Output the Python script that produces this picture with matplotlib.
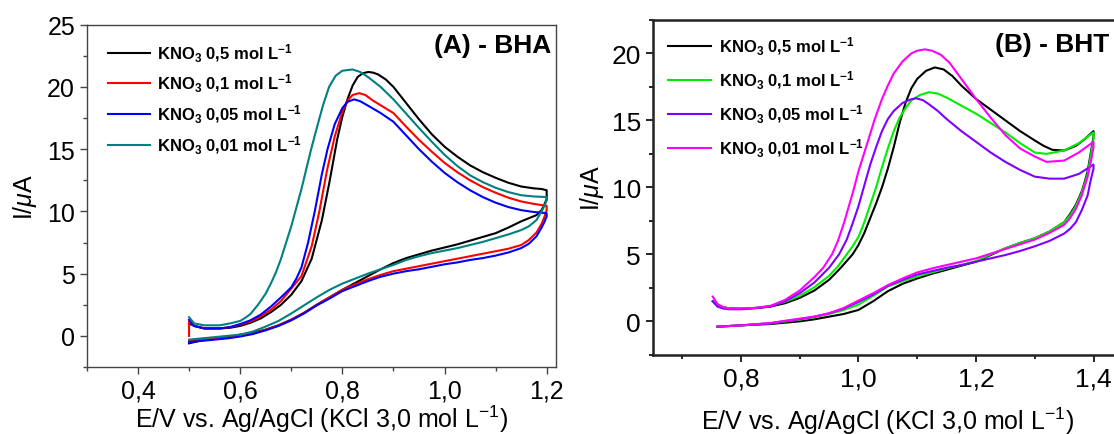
import numpy as np
import matplotlib.pyplot as plt

plt.rcParams['font.family'] = ['Liberation Sans', 'DejaVu Sans']
plt.rcParams['mathtext.fontset'] = 'custom'
plt.rcParams['mathtext.rm'] = 'Liberation Sans'
plt.rcParams['mathtext.bf'] = 'Liberation Sans:bold'
plt.rcParams['mathtext.it'] = 'Liberation Sans:italic'

# ---------------- panel A (BHA): E in V, I in uA ----------------
# each curve: forward scan (0.5 -> 1.2 V) followed by reverse scan (1.2 -> 0.5 V)
labels_a = ["0,5", "0,1", "0,05", "0,01"]
colors_a = ["black", "#ff0000", "#0000ff", "#008080"]

E_a_black = [0.5, 0.51, 0.53, 0.56, 0.58, 0.6, 0.62, 0.64, 0.66, 0.68, 0.7, 0.72, 0.74, 0.76, 0.775, 0.79, 0.8,
             0.81, 0.82, 0.83, 0.84, 0.851, 0.86, 0.87, 0.885, 0.9, 0.925, 0.95, 0.975, 1.0, 1.025, 1.05, 1.075,
             1.1, 1.125, 1.15, 1.175, 1.19, 1.2,
             1.2, 1.195, 1.19, 1.18, 1.165, 1.15, 1.125, 1.1, 1.075, 1.05, 1.025, 1.0, 0.975, 0.95, 0.925, 0.9,
             0.875, 0.85, 0.825, 0.8, 0.775, 0.75, 0.725, 0.7, 0.675, 0.65, 0.625, 0.6, 0.575, 0.55, 0.525, 0.5]
I_a_black = [1.0, 0.8, 0.6, 0.6, 0.65, 0.8, 1.05, 1.4, 1.9, 2.5, 3.3, 4.4, 6.2, 9.3, 12.4, 15.8, 17.6,
             19.0, 20.1, 20.8, 21.1, 21.2, 21.15, 21.0, 20.6, 20.0, 18.7, 17.4, 16.2, 15.2, 14.4, 13.7, 13.15,
             12.7, 12.3, 12.0, 11.85, 11.8, 11.7,
             11.0, 10.5, 10.1, 9.7, 9.45, 9.2, 8.7, 8.25, 7.95, 7.65, 7.35, 7.1, 6.85, 6.55, 6.25, 5.85,
             5.35, 4.8, 4.25, 3.7, 3.1, 2.5, 1.85, 1.3, 0.85, 0.5, 0.25, 0.1, -0.1, -0.25, -0.35, -0.6]

E_a_red = [0.5, 0.5, 0.51, 0.53, 0.56, 0.58, 0.6, 0.62, 0.64, 0.66, 0.68, 0.7, 0.72, 0.74, 0.755, 0.77, 0.785,
           0.8, 0.81, 0.82, 0.833, 0.845, 0.86, 0.88, 0.9, 0.925, 0.95, 0.975, 1.0, 1.025, 1.05, 1.075, 1.1,
           1.125, 1.15, 1.175, 1.2,
           1.2, 1.195, 1.19, 1.18, 1.165, 1.15, 1.125, 1.1, 1.075, 1.05, 1.025, 1.0, 0.975, 0.95, 0.925, 0.9,
           0.875, 0.85, 0.825, 0.8, 0.775, 0.75, 0.725, 0.7, 0.675, 0.65, 0.625, 0.6, 0.575, 0.55, 0.525, 0.5]
I_a_red = [0.0, 1.2, 0.8, 0.6, 0.6, 0.7, 0.9, 1.15, 1.55, 2.1, 2.8, 3.8, 4.8, 7.2, 10.0, 13.3, 16.0,
           18.0, 18.9, 19.35, 19.5, 19.35, 18.9, 18.4, 17.9, 16.8, 15.75, 14.8, 13.9, 13.15, 12.5, 11.95, 11.5,
           11.1, 10.8, 10.6, 10.45,
           10.1, 9.5, 9.0, 8.3, 7.7, 7.3, 7.0, 6.8, 6.6, 6.4, 6.2, 6.0, 5.8, 5.6, 5.4, 5.2,
           4.9, 4.55, 4.15, 3.7, 3.1, 2.5, 1.85, 1.3, 0.85, 0.5, 0.2, 0.0, -0.15, -0.25, -0.3, -0.35]

E_a_blue = [0.5, 0.51, 0.53, 0.56, 0.58, 0.6, 0.62, 0.64, 0.66, 0.68, 0.7, 0.71, 0.72, 0.733, 0.746, 0.76, 0.771,
            0.785, 0.8, 0.81, 0.823, 0.835, 0.85, 0.875, 0.9, 0.925, 0.95, 0.975, 1.0, 1.025, 1.05, 1.075, 1.1,
            1.125, 1.15, 1.175, 1.2,
            1.2, 1.195, 1.19, 1.18, 1.165, 1.15, 1.125, 1.1, 1.075, 1.05, 1.025, 1.0, 0.975, 0.95, 0.925, 0.9,
            0.875, 0.85, 0.825, 0.8, 0.775, 0.75, 0.725, 0.7, 0.675, 0.65, 0.625, 0.6, 0.575, 0.55, 0.525, 0.5]
I_a_blue = [1.3, 0.8, 0.6, 0.6, 0.7, 0.95, 1.25, 1.7, 2.35, 3.1, 3.9, 4.6, 5.5, 7.5, 10.0, 13.0, 15.0,
            17.0, 18.3, 18.8, 19.0, 18.85, 18.5, 17.9, 17.2, 16.1, 15.0, 14.0, 13.1, 12.35, 11.7, 11.15, 10.7,
            10.35, 10.1, 9.95, 9.86,
            9.6, 9.1, 8.7, 8.0, 7.4, 7.05, 6.7, 6.45, 6.25, 6.1, 5.9, 5.75, 5.55, 5.35, 5.2, 5.0,
            4.75, 4.4, 4.0, 3.6, 3.0, 2.45, 1.8, 1.25, 0.8, 0.45, 0.15, -0.05, -0.2, -0.3, -0.4, -0.5]

E_a_teal = [0.5, 0.51, 0.53, 0.56, 0.58, 0.6, 0.61, 0.62, 0.635, 0.65, 0.66, 0.67, 0.68, 0.69, 0.7, 0.708, 0.72,
            0.73, 0.739, 0.75, 0.762, 0.774, 0.787, 0.8, 0.82, 0.835, 0.85, 0.875, 0.9, 0.925, 0.95, 0.975, 1.0,
            1.025, 1.05, 1.075, 1.1, 1.125, 1.15, 1.175, 1.2,
            1.2, 1.195, 1.19, 1.18, 1.165, 1.15, 1.125, 1.1, 1.075, 1.05, 1.025, 1.0, 0.975, 0.95, 0.925, 0.9,
            0.875, 0.85, 0.825, 0.8, 0.775, 0.75, 0.725, 0.7, 0.675, 0.65, 0.625, 0.6, 0.575, 0.55, 0.525, 0.5]
I_a_teal = [1.5, 1.0, 0.85, 0.85, 1.0, 1.2, 1.45, 1.75, 2.5, 3.4, 4.2, 5.1, 6.2, 7.5, 8.8, 10.0, 11.8,
            13.5, 15.0, 16.7, 18.5, 20.0, 20.9, 21.3, 21.4, 21.2, 20.8, 20.0, 19.0, 17.85, 16.7, 15.6, 14.55,
            13.65, 12.9, 12.35, 11.9, 11.55, 11.3, 11.2, 11.15,
            10.9, 10.4, 10.0, 9.3, 8.8, 8.5, 8.15, 7.85, 7.55, 7.3, 7.05, 6.85, 6.65, 6.4, 6.1, 5.7,
            5.35, 5.0, 4.6, 4.2, 3.7, 3.1, 2.45, 1.8, 1.2, 0.75, 0.35, 0.1, 0.0, -0.1, -0.2, -0.3]

# ---------------- panel B (BHT): forward 0.75 -> 1.4 V, reverse 1.4 -> 0.76 V ----------------
labels_b = ["0,5", "0,1", "0,05", "0,01"]
colors_b = ["black", "#00ee00", "#8000ff", "#ff00ff"]

E_b_black = [0.752, 0.76, 0.77, 0.78, 0.8, 0.825, 0.85, 0.875, 0.9, 0.925, 0.95, 0.97, 0.99, 1.0, 1.01, 1.02,
             1.03, 1.04, 1.05, 1.06, 1.07, 1.08, 1.09, 1.1, 1.115, 1.13, 1.145, 1.16, 1.175, 1.2, 1.225, 1.25,
             1.275, 1.3, 1.315, 1.33, 1.35, 1.37, 1.385, 1.4,
             1.4, 1.395, 1.39, 1.385, 1.38, 1.37, 1.36, 1.35, 1.325, 1.3, 1.275, 1.25, 1.225, 1.2, 1.175, 1.15,
             1.125, 1.1, 1.075, 1.05, 1.025, 1.0, 0.975, 0.95, 0.925, 0.9, 0.85, 0.8, 0.76]
I_b_black = [1.5, 1.2, 1.05, 0.97, 0.95, 1.0, 1.1, 1.35, 1.75, 2.3, 3.1, 4.0, 5.0, 5.7, 6.6, 7.7,
             8.8, 10.0, 11.4, 13.0, 14.8, 16.3, 17.4, 18.1, 18.7, 18.95, 18.8, 18.3, 17.6, 16.6, 15.8, 15.0,
             14.2, 13.5, 13.1, 12.8, 12.75, 13.1, 13.6, 14.2,
             13.8, 12.5, 11.2, 10.4, 9.7, 8.7, 8.0, 7.4, 6.7, 6.2, 5.85, 5.45, 4.95, 4.45, 4.15, 3.85,
             3.55, 3.2, 2.8, 2.25, 1.5, 0.85, 0.55, 0.35, 0.15, 0.0, -0.2, -0.3, -0.4]

E_b_green = [0.752, 0.76, 0.77, 0.78, 0.8, 0.825, 0.85, 0.875, 0.9, 0.925, 0.95, 0.965, 0.98, 0.99, 1.0, 1.01,
             1.02, 1.03, 1.04, 1.05, 1.06, 1.07, 1.08, 1.09, 1.105, 1.12, 1.135, 1.15, 1.175, 1.2, 1.225, 1.25,
             1.275, 1.3, 1.32, 1.35, 1.375, 1.4,
             1.4, 1.395, 1.39, 1.385, 1.38, 1.37, 1.36, 1.35, 1.325, 1.3, 1.275, 1.25, 1.225, 1.2, 1.175, 1.15,
             1.125, 1.1, 1.075, 1.05, 1.025, 1.0, 0.975, 0.95, 0.925, 0.9, 0.85, 0.8, 0.76]
I_b_green = [1.5, 1.2, 1.05, 0.97, 0.95, 1.0, 1.15, 1.45, 1.9, 2.55, 3.4, 4.1, 5.0, 5.6, 6.3, 7.4,
             8.7, 10.0, 11.5, 12.9, 14.2, 15.2, 15.9, 16.5, 16.9, 17.1, 17.0, 16.7, 16.1, 15.5, 14.8, 14.1,
             13.3, 12.6, 12.5, 12.75, 13.3, 14.1,
             13.6, 12.3, 11.0, 10.3, 9.6, 8.6, 7.9, 7.4, 6.7, 6.2, 5.85, 5.45, 5.0, 4.5, 4.2, 3.95,
             3.65, 3.35, 3.0, 2.6, 1.9, 1.25, 0.85, 0.55, 0.3, 0.12, -0.15, -0.3, -0.4]

E_b_purple = [0.752, 0.76, 0.77, 0.78, 0.8, 0.825, 0.85, 0.875, 0.9, 0.925, 0.95, 0.967, 0.98, 0.99, 1.0, 1.009,
              1.02, 1.03, 1.04, 1.05, 1.06, 1.075, 1.088, 1.098, 1.11, 1.12, 1.135, 1.15, 1.175, 1.2, 1.225,
              1.25, 1.275, 1.3, 1.325, 1.35, 1.375, 1.4,
              1.4, 1.395, 1.39, 1.38, 1.37, 1.36, 1.35, 1.325, 1.3, 1.275, 1.25, 1.225, 1.2, 1.175, 1.15,
              1.125, 1.1, 1.075, 1.05, 1.025, 1.0, 0.975, 0.95, 0.925, 0.9, 0.85, 0.8, 0.76]
I_b_purple = [1.5, 1.1, 0.95, 0.9, 0.9, 0.98, 1.1, 1.5, 2.1, 2.9, 4.0, 5.0, 6.1, 7.3, 8.6, 10.0,
              11.7, 13.0, 14.2, 15.1, 15.7, 16.3, 16.55, 16.65, 16.5, 16.2, 15.7, 15.1, 14.2, 13.4, 12.6,
              11.9, 11.3, 10.8, 10.65, 10.65, 11.0, 11.7,
              11.4, 10.5, 9.4, 8.3, 7.4, 6.9, 6.55, 6.0, 5.6, 5.25, 4.95, 4.7, 4.45, 4.2, 4.0,
              3.75, 3.5, 3.1, 2.65, 2.0, 1.45, 0.95, 0.6, 0.35, 0.17, -0.15, -0.3, -0.4]

E_b_magenta = [0.752, 0.76, 0.77, 0.78, 0.8, 0.825, 0.85, 0.875, 0.9, 0.925, 0.94, 0.955, 0.965, 0.975, 0.985,
               0.991, 1.0, 1.01, 1.02, 1.027, 1.04, 1.05, 1.06, 1.075, 1.09, 1.1, 1.113, 1.125, 1.14, 1.155,
               1.17, 1.185, 1.2, 1.225, 1.25, 1.275, 1.3, 1.32, 1.35, 1.375, 1.4,
               1.4, 1.395, 1.39, 1.38, 1.37, 1.36, 1.35, 1.325, 1.3, 1.275, 1.25, 1.225, 1.2, 1.175, 1.15,
               1.125, 1.1, 1.075, 1.05, 1.025, 1.0, 0.975, 0.95, 0.925, 0.9, 0.85, 0.8, 0.76]
I_b_magenta = [1.85, 1.3, 1.05, 0.95, 0.95, 1.0, 1.15, 1.6, 2.3, 3.3, 4.0, 5.0, 6.0, 7.3, 8.8,
               9.7, 11.2, 12.6, 14.0, 15.0, 16.6, 17.6, 18.5, 19.4, 20.0, 20.2, 20.3, 20.2, 19.9, 19.3,
               18.4, 17.5, 16.6, 15.2, 13.9, 12.9, 12.3, 11.9, 12.0, 12.6, 13.4,
               13.0, 11.8, 10.8, 9.4, 8.4, 7.7, 7.2, 6.6, 6.1, 5.75, 5.4, 5.05, 4.7, 4.45, 4.2,
               3.95, 3.65, 3.2, 2.7, 2.1, 1.55, 1.0, 0.6, 0.35, 0.2, -0.12, -0.3, -0.4]

curves_a = [(E_a_black, I_a_black), (E_a_red, I_a_red), (E_a_blue, I_a_blue), (E_a_teal, I_a_teal)]
curves_b = [(E_b_black, I_b_black), (E_b_green, I_b_green), (E_b_purple, I_b_purple), (E_b_magenta, I_b_magenta)]

fig = plt.figure(figsize=(11.14, 4.35), dpi=100)
axA = fig.add_axes([0.078, 0.154, 0.421, 0.787])
axB = fig.add_axes([0.586, 0.182, 0.422, 0.770])

xlabel = r"E/V vs. Ag/AgCl (KCl 3,0 mol L$^{-1}$)"


def leg_label(c):
    return r"KNO$_\mathbf{3}$ " + c + r" mol L$^\mathbf{-1}$"


# panel A
for (E, I), col, lab in zip(curves_a, colors_a, labels_a):
    axA.plot(E, I, color=col, lw=1.5, label=leg_label(lab))
axA.set_xlim(0.3, 1.218)
axA.set_ylim(-2.5, 25)
axA.set_xticks([0.4, 0.6, 0.8, 1.0, 1.2])
axA.set_xticklabels(["0,4", "0,6", "0,8", "1,0", "1,2"])
axA.set_xticks(np.arange(0.3, 1.21, 0.1), minor=True)
axA.set_yticks([0, 5, 10, 15, 20, 25])
axA.set_yticks(np.arange(-2.5, 25.1, 2.5), minor=True)
for s in axA.spines.values():
    s.set_color("#444444")
    s.set_linewidth(1.0)
axA.tick_params(which="both", direction="out", colors="#444444", labelcolor="black", labelsize=18,
                top=False, right=False)
axA.tick_params(which="major", length=5, width=1)
axA.tick_params(which="minor", length=3, width=1)
axA.set_xlabel(xlabel, fontsize=18, labelpad=0)
axA.set_ylabel(r"I/$\mu$A", fontsize=18, labelpad=6)
axA.text(0.99, 0.975, "(A) - BHA", transform=axA.transAxes, ha="right", va="top",
         fontsize=19, fontweight="bold")
axA.legend(loc="upper left", frameon=False, prop={"weight": "bold", "size": 12},
           handlelength=2.5, handletextpad=0.45, labelspacing=0.5, borderaxespad=0.3,
           bbox_to_anchor=(0.02, 0.985))

# panel B
for (E, I), col, lab in zip(curves_b, colors_b, labels_b):
    axB.plot(E, I, color=col, lw=1.5, label=leg_label(lab))
axB.set_xlim(0.65, 1.45)
axB.set_ylim(-2.5, 22.5)
axB.set_xticks([0.8, 1.0, 1.2, 1.4])
axB.set_xticklabels(["0,8", "1,0", "1,2", "1,4"])
axB.set_xticks(np.arange(0.7, 1.41, 0.1), minor=True)
axB.set_yticks([0, 5, 10, 15, 20])
axB.set_yticks(np.arange(-2.5, 22.6, 2.5), minor=True)
for s in axB.spines.values():
    s.set_color("#222222")
    s.set_linewidth(1.8)
axB.tick_params(which="both", direction="out", labelsize=19, top=False, right=False)
axB.tick_params(which="major", length=5, width=1.2)
axB.tick_params(which="minor", length=3, width=1.2)
axB.set_xlabel(xlabel, fontsize=18, labelpad=10)
axB.set_ylabel(r"I/$\mu$A", fontsize=18, labelpad=4)
axB.text(0.97, 0.965, "(B) - BHT", transform=axB.transAxes, ha="right", va="top",
         fontsize=19, fontweight="bold")
axB.legend(loc="upper left", frameon=False, prop={"weight": "bold", "size": 12},
           handlelength=2.6, handletextpad=0.5, labelspacing=0.7, borderaxespad=0.5,
           bbox_to_anchor=(0.0, 1.0))

fig.savefig("out.png", dpi=100)
